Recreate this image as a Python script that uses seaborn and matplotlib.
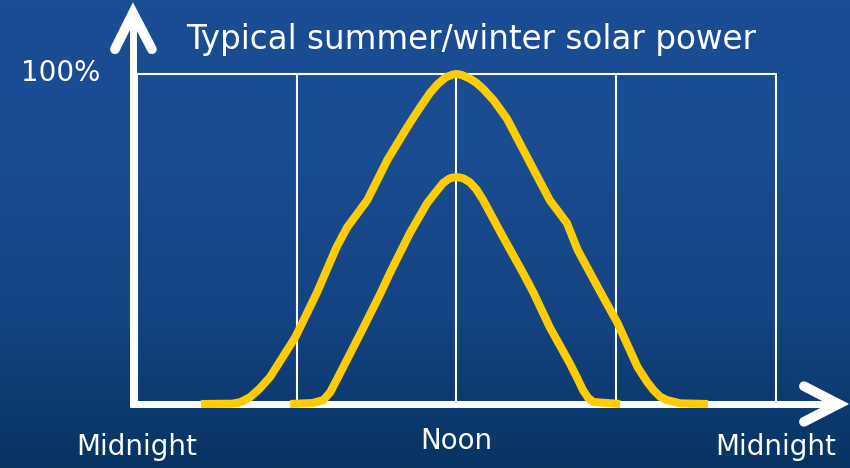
import numpy as np
import pandas as pd
import matplotlib
matplotlib.use("Agg")
import matplotlib.pyplot as plt
import seaborn as sns
from matplotlib.colors import LinearSegmentedColormap

#Data (hour of day, % of peak power)
summer_hours = [2.4, 3.6, 3.9, 4.25, 4.6, 5.0, 5.95, 6.75, 7.5, 7.9, 8.65, 9.4, 10.15, 10.6, 11.0,
                11.3, 11.6, 11.85, 12.0, 12.2, 12.5, 12.75, 13.0, 13.4, 13.9, 14.75, 15.5,
                16.15, 16.55, 17.3, 18.05, 18.8, 19.15, 19.4, 19.65, 19.9, 20.4, 21.45]
summer_power = [0, 0.1, 0.6, 2.1, 4.6, 8.2, 20.3, 33.6, 47.6, 53.6, 61.8, 73.9, 83.9, 89.5, 94.2,
                97.0, 99.0, 99.8, 100, 99.7, 98.6, 97.3, 95.5, 92.0, 86.4, 73.3, 61.8,
                54.8, 46.7, 35.5, 24.5, 11.2, 6.8, 4.2, 2.2, 1.2, 0.2, 0]
winter_hours = [5.75, 6.6, 7.0, 7.25, 7.5, 8.4, 9.15, 9.5, 10.25, 10.9, 11.25, 11.5, 11.75,
                12.0, 12.25, 12.5, 12.75, 13.0, 13.75, 14.5, 14.9, 15.5, 16.25, 16.55,
                16.75, 16.95, 17.15, 18.15]
winter_power = [0, 0.3, 1.2, 3.5, 7.3, 21.5, 33.6, 39.7, 51.8, 60.9, 64.5, 67.0, 68.4,
                68.8, 68.4, 67.2, 65.0, 61.8, 50.6, 39.7, 33.6, 23.3, 12.4, 7.6,
                4.2, 1.8, 0.6, 0]
grid_hours = [0, 6, 12, 18, 24]
tick_hours = [0, 12, 24]
tick_labels = ["Midnight", "Noon", "Midnight"]
title = "Typical summer/winter solar power"

sns.set_theme(style="white")
plt.rcParams["font.family"] = ["DejaVu Sans"]

yellow = "#FFCC00"
white = "white"

fig = plt.figure(figsize=(8.5, 4.68), dpi=100)

#Blue background gradient
bg = fig.add_axes([0, 0, 1, 1])
cmap = LinearSegmentedColormap.from_list("bg", ["#1b4d95", "#1a4c92", "#144483", "#083463"])
grad = np.linspace(0, 1, 256).reshape(-1, 1)
bg.imshow(grad, aspect="auto", cmap=cmap, extent=[0, 1, 0, 1], origin="upper")
bg.set_axis_off()

#Main axes: 0-24 h maps to 137-776 px, 0-100 % maps to 404-74 px
ax = fig.add_axes([137 / 850, 64 / 468, 639 / 850, 330 / 468])
ax.set_facecolor("none")
ax.set_xlim(0, 24)
ax.set_ylim(0, 100)
for s in ax.spines.values():
    s.set_visible(False)
ax.set_xticks([])
ax.set_yticks([])

#Grid box
for h in grid_hours:
    ax.plot([h, h], [0, 100], color=white, lw=1.5, zorder=1, clip_on=False)
ax.plot([0, 24], [100, 100], color=white, lw=1.5, zorder=1, clip_on=False)

#Axes with arrows
ax.plot([-0.15, -0.15], [-1, 118], color=white, lw=5, zorder=2, clip_on=False, solid_capstyle="butt")
ax.plot([-0.83, -0.15, 0.56], [107.5, 118.5, 107.5], color=white, lw=7, zorder=2,
        clip_on=False, solid_capstyle="round", solid_joinstyle="miter")
ax.plot([-0.27, 26.3], [0, 0], color=white, lw=5, zorder=2, clip_on=False, solid_capstyle="butt")
ax.plot([25.05, 26.35, 25.05], [5.4, 0, -5.4], color=white, lw=7, zorder=2,
        clip_on=False, solid_capstyle="round", solid_joinstyle="miter")

#Curves
curves = pd.DataFrame({
    "hour": summer_hours + winter_hours,
    "power": summer_power + winter_power,
    "season": ["Summer"] * len(summer_hours) + ["Winter"] * len(winter_hours),
})
sns.lineplot(data=curves, x="hour", y="power", hue="season", units="season", estimator=None,
             sort=False, palette=[yellow, yellow], lw=5.8, ax=ax, legend=False, zorder=3,
             solid_capstyle="butt", solid_joinstyle="round", clip_on=False)
ax.set_xlabel("")
ax.set_ylabel("")

#Texts
fig.text(471 / 850, 1 - 40 / 468, title, color=white, fontsize=23.5, ha="center", va="center")
fig.text(61 / 850, 1 - 73 / 468, "100%", color=white, fontsize=20, ha="center", va="center")
for h, lab in zip(tick_hours, tick_labels):
    yy = 441 if lab == "Noon" else 447
    ax.text(h, 0, lab, color=white, fontsize=20, ha="center", va="center",
            transform=ax.get_xaxis_transform() + matplotlib.transforms.ScaledTranslation(0, -(yy - 404) / 100, fig.dpi_scale_trans))

fig.savefig("out.png", dpi=100)
